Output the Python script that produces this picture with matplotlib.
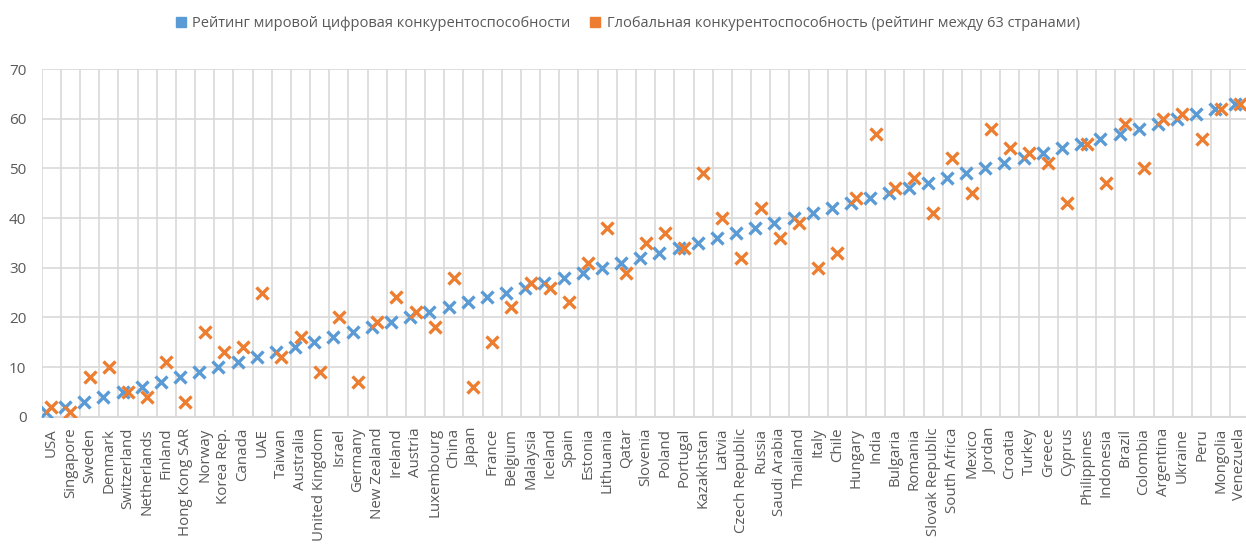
import numpy as np
import matplotlib
matplotlib.use("Agg")
import matplotlib.pyplot as plt
from matplotlib.lines import Line2D

plt.rcParams['font.family'] = ['Open Sans', 'DejaVu Sans']

countries = ["USA", "Singapore", "Sweden", "Denmark", "Switzerland", "Netherlands",
             "Finland", "Hong Kong SAR", "Norway", "Korea Rep.", "Canada", "UAE",
             "Taiwan", "Australia", "United Kingdom", "Israel", "Germany", "New Zealand",
             "Ireland", "Austria", "Luxembourg", "China", "Japan", "France", "Belgium",
             "Malaysia", "Iceland", "Spain", "Estonia", "Lithuania", "Qatar", "Slovenia",
             "Poland", "Portugal", "Kazakhstan", "Latvia", "Czech Republic", "Russia",
             "Saudi Arabia", "Thailand", "Italy", "Chile", "Hungary", "India", "Bulgaria",
             "Romania", "Slovak Republic", "South Africa", "Mexico", "Jordan", "Croatia",
             "Turkey", "Greece", "Cyprus", "Philippines", "Indonesia", "Brazil", "Colombia",
             "Argentina", "Ukraine", "Peru", "Mongolia", "Venezuela"]

digital_rank = list(range(1, 64))
global_rank = [2, 1, 8, 10, 5, 4, 11, 3, 17, 13, 14, 25, 12, 16, 9, 20, 7, 19, 24, 21,
               18, 28, 6, 15, 22, 27, 26, 23, 31, 38, 29, 35, 37, 34, 49, 40, 32, 42, 36, 39,
               30, 33, 44, 57, 46, 48, 41, 52, 45, 58, 54, 53, 51, 43, 55, 47, 59, 50, 60, 61,
               56, 62, 63]

label_blue = "Рейтинг мировой цифровая конкурентоспособности"
label_orange = "Глобальная конкурентоспособность (рейтинг между 63 странами)"

blue = "#5B9BD5"
orange = "#ED7D31"
grid_c = "#D9D9D9"
text_c = "#595959"

W, H = 1246, 551
fig = plt.figure(figsize=(W / 100, H / 100), dpi=100)
left, right, top, bottom = 41.7, 1249.5, 69, 416.7
ax = fig.add_axes([left / W, 1 - bottom / H, (right - left) / W, (bottom - top) / H])

x = np.arange(len(countries))
ax.plot(x - 0.28, digital_rank, linestyle='none', marker='x', color=blue,
        markersize=9, markeredgewidth=2.4, zorder=3)
ax.plot(x, global_rank, linestyle='none', marker='x', color=orange,
        markersize=9, markeredgewidth=2.4, zorder=4)

ax.set_xlim(-0.5, len(countries) - 0.5)
ax.set_ylim(0, 70)
ax.set_yticks(np.arange(0, 71, 10))
ax.set_xticks(x)
ax.set_xticklabels(countries, rotation=90, fontsize=10.8, color=text_c, va='top', ha='center')
ax.set_xticks(np.arange(-0.5, len(countries), 1), minor=True)
ax.tick_params(axis='x', which='both', length=0, pad=8)
ax.tick_params(axis='y', length=0, pad=11, labelsize=11, labelcolor=text_c)

ax.grid(True, axis='y', which='major', color=grid_c, linewidth=1.2, zorder=0)
ax.grid(True, axis='x', which='minor', color=grid_c, linewidth=1.2, zorder=0)
ax.grid(False, axis='x', which='major')
for s in ['top', 'right', 'left']:
    ax.spines[s].set_visible(False)
ax.spines['bottom'].set_color(grid_c)
ax.spines['bottom'].set_linewidth(1.5)
ax.set_axisbelow(True)

handles = [Line2D([], [], linestyle='none', marker='s', markersize=7.5, color=blue),
           Line2D([], [], linestyle='none', marker='s', markersize=7.5, color=orange)]
fig.legend(handles, [label_blue, label_orange], loc='center', bbox_to_anchor=(0.503, 0.958),
           ncol=2, frameon=False, fontsize=10.5, labelcolor=text_c,
           handletextpad=0.3, columnspacing=1.2, handlelength=1.0)

fig.savefig("out.png", dpi=100)
